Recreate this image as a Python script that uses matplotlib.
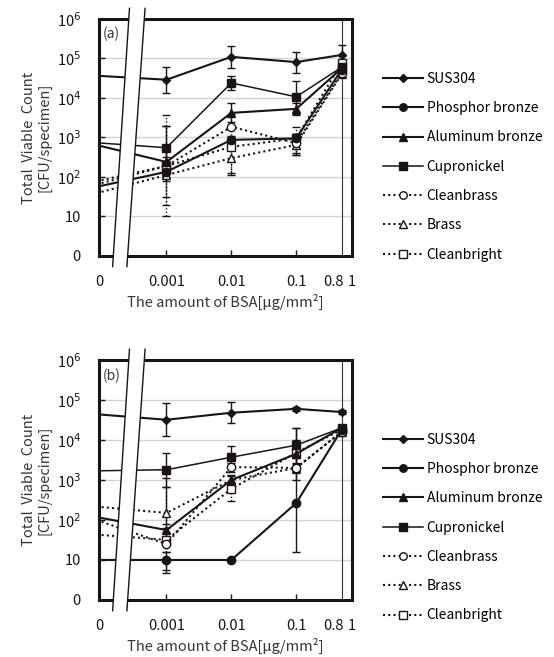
import numpy as np
import matplotlib
matplotlib.use("Agg")
import matplotlib.pyplot as plt
from matplotlib.patches import Polygon

plt.rcParams['font.family'] = ['Noto Sans CJK JP', 'DejaVu Sans']

# x positions on the broken axis: 0 | 0.001, 0.01, 0.1, 0.8
x_labels = ['0', '0.001', '0.01', '0.1', '0.8']
x_pos = [0, 1, 2, 3, 3.7]

series = ['SUS304', 'Phosphor bronze', 'Aluminum bronze', 'Cupronickel',
          'Cleanbrass', 'Brass', 'Cleanbright']
markers = ['D', 'o', '^', 's', 'o', '^', 's']
filled = [True, True, True, True, False, False, False]
dotted = [False, False, False, False, True, True, True]

nan = np.nan

# panel (a): CFU/specimen, and error bar bounds (no bars at 0)
a_vals = [
    [3.6e4, 2.9e4, 1.1e5, 8.1e4, 1.23e5],
    [60, 135, 870, 950, 5.2e4],
    [600, 240, 4200, 5300, 5.6e4],
    [720, 550, 2.4e4, 1.07e4, 6.0e4],
    [83, 190, 1860, 720, 4.3e4],
    [42, 112, 300, 650, 4.0e4],
    [70, 190, 580, 950, 7.8e4],
]
a_hi = [
    [nan, 6.0e4, 2.1e5, 1.5e5, 2.2e5],
    [nan, 250, 1100, 1250, nan],
    [nan, 630, 7400, 7400, nan],
    [nan, 1900, 3.6e4, 2.7e4, nan],
    [nan, 3700, 4000, 1250, nan],
    [nan, 320, 800, 1000, nan],
    [nan, 2000, 1000, 1850, nan],
]
a_lo = [
    [nan, 1.35e4, 5.6e4, 4.3e4, 7.0e4],
    [nan, 80, 630, 700, nan],
    [nan, 100, 2500, 3700, nan],
    [nan, 100, 1.6e4, 4000, nan],
    [nan, 10, 500, 400, nan],
    [nan, 32, 112, 350, nan],
    [nan, 20, 125, 360, nan],
]

# panel (b)
b_vals = [
    [4.3e4, 3.2e4, 4.8e4, 6.0e4, 5.0e4],
    [10, 10, 10, 265, 1.8e4],
    [112, 56, 1000, 4500, 2.0e4],
    [1700, 1800, 3700, 7400, 2.0e4],
    [90, 25, 2100, 2000, 1.6e4],
    [210, 150, 1000, 2000, 1.6e4],
    [42, 32, 600, 4800, 1.8e4],
]
b_hi = [
    [nan, 8.3e4, 8.9e4, 6.8e4, 5.6e4],
    [nan, 16, nan, 2.0e4, nan],
    [nan, 680, 1260, 1.0e4, nan],
    [nan, 4600, 7100, 1.95e4, nan],
    [nan, 50, 2600, 2600, nan],
    [nan, 1100, 1300, 2500, nan],
    [nan, 63, 900, 6000, nan],
]
b_lo = [
    [nan, 1.26e4, 2.7e4, 5.4e4, 4.5e4],
    [nan, 4.8, nan, 16, nan],
    [nan, 25, 800, 2000, nan],
    [nan, 680, 2100, 1000, nan],
    [nan, 5.5, 1600, 1600, nan],
    [nan, 80, 700, 1500, nan],
    [nan, 16, 300, 3500, nan],
]

INK = '#1a1414'
DOT = (0, (1, 1.5))


def draw_panel(ax, vals, hi, lo, tag, leg_y):
    for i, name in enumerate(series):
        v = np.array(vals[i], dtype=float)
        ls = DOT if dotted[i] else '-'
        lw = 1.1 if name == 'Cupronickel' else 1.5
        ms = 4.5 if markers[i] == 'D' else 6
        ax.plot(x_pos, v, color=INK, linestyle=ls, linewidth=lw,
                marker=markers[i], markersize=ms, markevery=slice(1, None),
                markerfacecolor=INK if filled[i] else 'white',
                markeredgecolor=INK, markeredgewidth=1.0,
                label=name, zorder=3 + (7 - i) * 0.1)
        h = np.array(hi[i], dtype=float)
        l = np.array(lo[i], dtype=float)
        ok = ~np.isnan(h)
        xe = np.array(x_pos)[ok]
        eb = ax.errorbar(xe, v[ok], yerr=[v[ok] - l[ok], h[ok] - v[ok]],
                         fmt='none', ecolor=INK, elinewidth=1.0,
                         capsize=3, capthick=1.0, zorder=2)
        if dotted[i]:
            for c in eb[2]:
                c.set_linestyle(DOT)

    ax.set_yscale('log')
    ax.set_ylim(1, 1e6)
    ax.set_xlim(0, 3.78)
    ax.set_yticks([1, 10, 1e2, 1e3, 1e4, 1e5, 1e6])
    ax.set_yticklabels(['0', '10', '10$^2$', '10$^3$', '10$^4$', '10$^5$', '10$^6$'])
    ax.minorticks_off()
    for yv in [10, 1e2, 1e3, 1e4, 1e5]:
        ax.axhline(yv, color='#d4d4d4', linewidth=1.0, zorder=0)
    ax.axvline(x_pos[-1], color='#3a3434', linewidth=0.8, zorder=1)

    ax.set_xticks(x_pos[1:4])
    ax.set_xticklabels(x_labels[1:4])
    ax.set_xticks([-0.04, 3.58, 3.86], ['0', '0.8', '1'], minor=True)
    ax.tick_params(axis='both', which='major', direction='in', length=4,
                   width=1.0, labelsize=10.5, colors=INK)
    ax.tick_params(axis='x', which='major', pad=14)
    ax.tick_params(axis='x', which='minor', length=0, pad=14,
                   labelsize=10.5, colors=INK)
    ax.tick_params(axis='y', pad=13)
    for s in ax.spines.values():
        s.set_linewidth(2.2)
        s.set_color(INK)

    # axis break band
    tr = ax.get_xaxis_transform()
    band = Polygon([(0.17, -0.045), (0.43, 1.045), (0.67, 1.045), (0.39, -0.045)],
                   closed=True, facecolor='white', edgecolor='none',
                   transform=tr, clip_on=False, zorder=5)
    ax.add_patch(band)
    ax.plot([0.17, 0.43], [-0.045, 1.045], color=INK, lw=1.0,
            transform=tr, clip_on=False, zorder=6)
    ax.plot([0.39, 0.67], [-0.045, 1.045], color=INK, lw=1.0,
            transform=tr, clip_on=False, zorder=6)

    ax.text(0.015, 0.935, tag, transform=ax.transAxes, fontsize=10,
            color='#3a3434', va='center', ha='left', zorder=7)
    ax.set_ylabel('Total  Viable  Count\n[CFU/specimen]', fontsize=10.5,
                  color='#3a3434', labelpad=4, linespacing=1.1)
    ax.set_xlabel('The amount of BSA[\u03bcg/mm\u00b2]', fontsize=10.5,
                  color='#3a3434', labelpad=3)

    ax.legend(loc='upper left', bbox_to_anchor=(1.1, leg_y), frameon=False,
              borderaxespad=0, handlelength=2.9, handletextpad=0.25,
              labelspacing=1.1, fontsize=10, markerscale=0.9)


fig = plt.figure(figsize=(5.54, 6.57), dpi=100)
ax1 = fig.add_axes([0.1787, 0.6104, 0.4567, 0.3607])
ax2 = fig.add_axes([0.1787, 0.0868, 0.4567, 0.3653])

draw_panel(ax1, a_vals, a_hi, a_lo, '(a)', 0.80)
draw_panel(ax2, b_vals, b_hi, b_lo, '(b)', 0.72)

fig.savefig('out.png', dpi=100)
